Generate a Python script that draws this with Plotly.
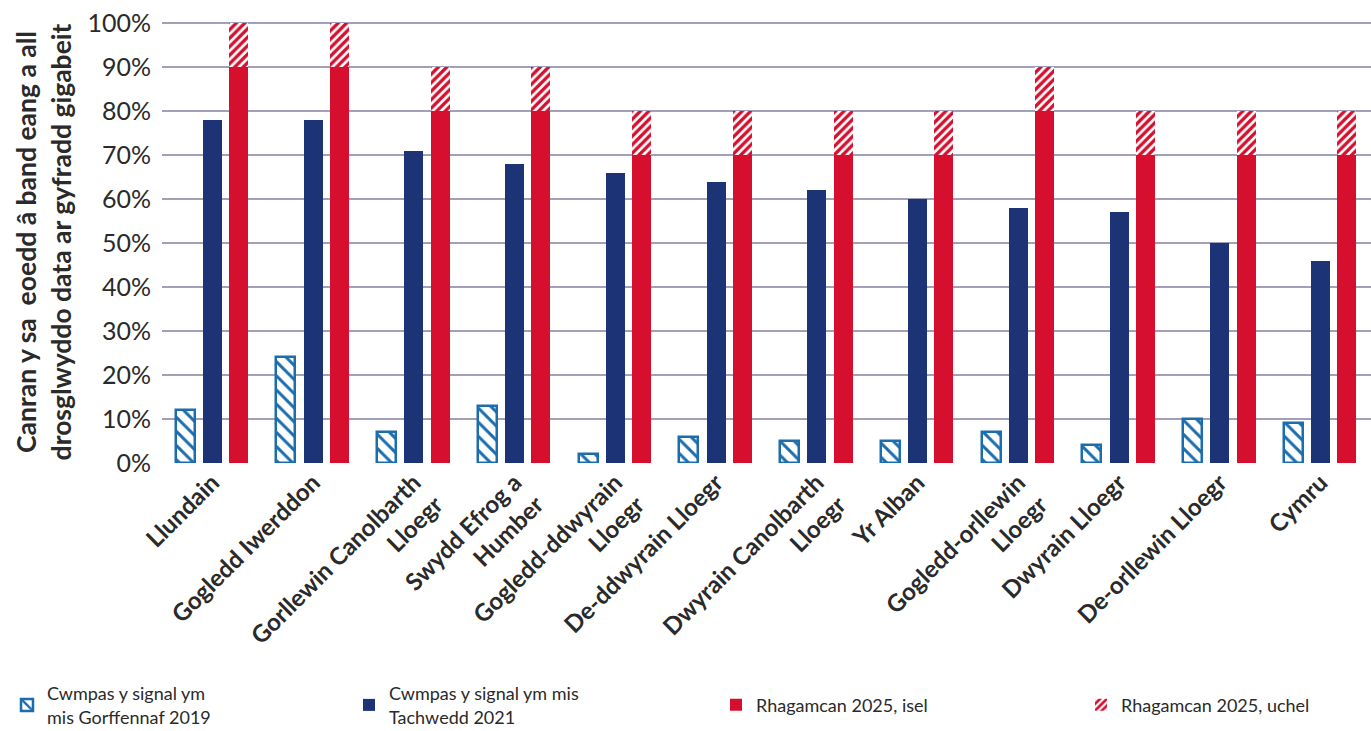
import plotly.graph_objects as go

categories = [
    "Llundain", "Gogledd Iwerddon", "Gorllewin Canolbarth<br>Lloegr",
    "Swydd Efrog a<br>Humber", "Gogledd-ddwyrain<br>Lloegr", "De-ddwyrain Lloegr",
    "Dwyrain Canolbarth<br>Lloegr", "Yr Alban", "Gogledd-orllewin<br>Lloegr",
    "Dwyrain Lloegr", "De-orllewin Lloegr", "Cymru",
]
signal_2019 = [12, 24, 7, 13, 2, 6, 5, 5, 7, 4, 10, 9]
signal_2021 = [78, 78, 71, 68, 66, 64, 62, 60, 58, 57, 50, 46]
forecast_low = [90, 90, 80, 80, 70, 70, 70, 70, 80, 70, 70, 70]
forecast_high = [100, 100, 90, 90, 80, 80, 80, 80, 90, 80, 80, 80]

names = [
    "Cwmpas y signal ym<br>mis Gorffennaf 2019",
    "Cwmpas y signal ym mis<br>Tachwedd 2021",
    "Rhagamcan 2025, isel",
    "Rhagamcan 2025, uchel",
]

BLUE = "#1b6dad"
NAVY = "#1c3476"
RED = "#d50f2d"
GRID = "#a39fbb"
TXT = "#2a2a2a"

x = list(range(len(categories)))
W = 0.19

fig = go.Figure()
fig.add_bar(
    x=x, y=signal_2019, name=names[0], width=W, offset=-0.27 - W / 2, legend="legend",
    marker=dict(color="white", line=dict(color=BLUE, width=2.5),
                pattern=dict(shape="\\", fgcolor=BLUE, bgcolor="white", size=10,
                             solidity=0.3, fgopacity=1, fillmode="replace")),
)
fig.add_bar(
    x=x, y=signal_2021, name=names[1], width=W, offset=-W / 2, legend="legend2",
    marker=dict(color=NAVY, line=dict(width=0)),
)
fig.add_bar(
    x=x, y=forecast_low, name=names[2], width=W, offset=0.26 - W / 2, legend="legend3",
    marker=dict(color=RED, line=dict(width=0)),
)
fig.add_bar(
    x=x, y=[h - l for h, l in zip(forecast_high, forecast_low)], base=forecast_low,
    name=names[3], width=W, offset=0.26 - W / 2, legend="legend4",
    marker=dict(color="white", line=dict(width=0),
                pattern=dict(shape="/", fgcolor=RED, bgcolor="white", size=6,
                             solidity=0.55, fgopacity=1, fillmode="replace")),
)

L, T, B = 162, 21, 268
PH = 731 - T - B
PW = 1371 - L


def lx(px):
    return (px - L) / PW


def ly(py):
    return (731 - B - py) / PH


leg_common = dict(orientation="h", yanchor="middle", xanchor="left",
                  font=dict(size=18, color=TXT), bgcolor="rgba(0,0,0,0)", itemwidth=30)

fig.update_layout(
    barmode="overlay",
    width=1371, height=731,
    margin=dict(l=L, r=0, t=T, b=B, autoexpand=False),
    paper_bgcolor="white", plot_bgcolor="white",
    font=dict(family="Lato, 'Open Sans', sans-serif", color=TXT),
    showlegend=True,
    legend=dict(x=lx(7), y=ly(705), **leg_common),
    legend2=dict(x=lx(349), y=ly(705), **leg_common),
    legend3=dict(x=lx(716), y=ly(705), **leg_common),
    legend4=dict(x=lx(1081), y=ly(705), **leg_common),
    bargap=0,
)
fig.update_xaxes(
    tickmode="array", tickvals=x, ticktext=categories, range=[-0.5, len(categories) - 0.5],
    tickangle=-45, showgrid=False, showline=False, ticks="", automargin=False,
    tickfont=dict(size=24, family="Lato, sans-serif", weight="bold", color=TXT),
)
fig.update_yaxes(
    range=[0, 100.5], dtick=10, ticksuffix="%", showgrid=True, gridcolor=GRID, gridwidth=2,
    zeroline=False, showline=False, ticks="", ticklabelstandoff=10, automargin=False,
    tickfont=dict(size=25, color=TXT),
    title=dict(text="Canran y sa\u00a0\u00a0eoedd â band eang a all<br>drosglwyddo data ar gyfradd gigabeit",
               font=dict(size=26.5, weight="bold", color=TXT), standoff=8),
)

fig.write_html(
    "out.html",
    config={"displayModeBar": False},
    post_script="document.body.style.margin='0';document.body.style.padding='0';",
)
